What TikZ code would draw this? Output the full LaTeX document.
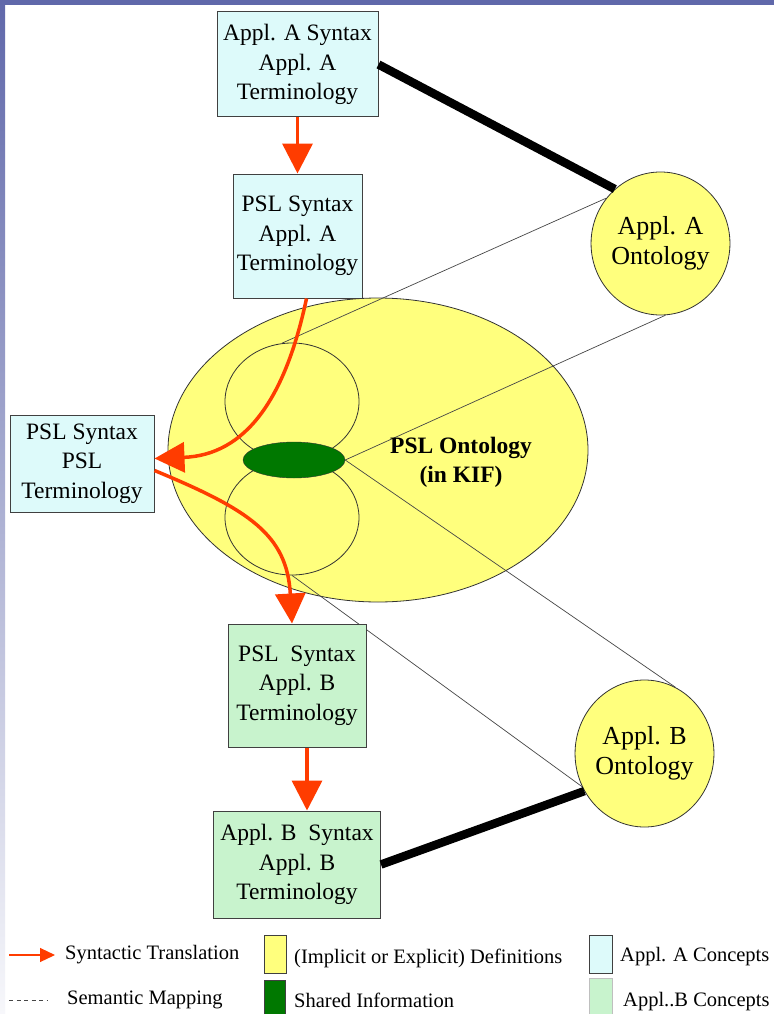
\documentclass[tikz,border=0pt]{standalone}
\usepackage{fontspec}
\setmainfont{Liberation Serif}
\usepackage{tikz}
\usetikzlibrary{positioning}
\usetikzlibrary{calc}
\usetikzlibrary{arrows.meta}
\usetikzlibrary{shapes.geometric}

\definecolor{conceptA}{RGB}{221,250,250}
\definecolor{conceptB}{RGB}{200,243,205}
\definecolor{defyellow}{RGB}{255,255,125}
\definecolor{sharedgreen}{RGB}{0,120,0}
\definecolor{transred}{RGB}{255,60,0}
\definecolor{frameblue}{RGB}{96,104,170}
\definecolor{mapgray}{RGB}{70,70,70}

\begin{document}
\begin{tikzpicture}[
	x=1pt, y=-1pt,
	termbox/.style={draw=black!75, line width=1pt, inner sep=0pt, align=center,
		font=\fontsize{23.5}{29.5}\selectfont},
	ontology/.style={ellipse, draw=black!80, line width=0.8pt, fill=defyellow,
		inner sep=0pt, align=center, font=\fontsize{26}{30}\selectfont},
	defarea/.style={ellipse, draw=black!80, line width=0.8pt, fill=defyellow, inner sep=0pt},
	translation/.style={draw=transred, line width=3.5pt, -{Triangle[length=30pt,width=30pt]}},
	mapping/.style={draw=mapgray, line width=0.7pt},
	binding/.style={draw=black, line width=8.5pt},
	keybox/.style={draw=black!75, line width=0.8pt, inner sep=0pt, minimum width=23pt},
	legendtext/.style={anchor=west, inner sep=0pt, font=\fontsize{20.5}{24}\selectfont}
]

\useasboundingbox (0,0) rectangle (774,1014);
\fill[white] (0,0) rectangle (774,1014);
\shade[top color=frameblue, bottom color=frameblue!5] (0,0) rectangle (5,1014);
\fill[frameblue] (0,0) rectangle (774,5);

% PSL ontology with the two definition areas
\node[defarea, minimum width=420pt, minimum height=304pt] (pslont) at (378,450) {};
\node[defarea, minimum width=134pt, minimum height=117pt] (upperdef) at (292,401.5) {};
\node[defarea, minimum width=134pt, minimum height=115pt] (lowerdef) at (292,517.5) {};
\node[
	ellipse,
	draw=black!80,
	fill=sharedgreen,
	minimum width=102pt,
	minimum height=36pt,
	inner sep=0pt
] (shared) at (294,460) {};

% application ontologies
\node[ontology, minimum width=133pt, minimum height=143pt] (applA) at (660.5,243.5) {Appl. A\\Ontology};
\node[ontology, minimum width=137pt, minimum height=147pt] (applB) at (644.5,753.5) {Appl. B\\Ontology};

% semantic mappings
\draw[mapping] (applA.140) -- (upperdef.100);
\draw[mapping] (applA.-86) -- (shared.east);
\draw[mapping] (shared.east) -- (applB.65);
\draw[mapping] (lowerdef.south) -- (applB.208);

% terminology boxes
\node[
	termbox,
	fill=conceptA,
	minimum width=161pt,
	minimum height=105pt
] (syntaxA) at (297.5,64.5) {Appl. A Syntax\\Appl. A\\Terminology};

\node[
	termbox,
	fill=conceptA,
	minimum width=129pt,
	minimum height=124pt,
	below=56pt of syntaxA
] (pslA) {PSL Syntax\\Appl. A\\Terminology};

\node[
	termbox,
	fill=conceptA,
	minimum width=144pt,
	minimum height=97pt
] (pslpsl) at (82,463.5) {PSL Syntax\\PSL\\Terminology};

\node[
	termbox,
	fill=conceptB,
	minimum width=138pt,
	minimum height=123pt
] (pslB) at (297,685.5) {PSL\ \ Syntax\\Appl. B\\Terminology};

\node[
	termbox,
	fill=conceptB,
	minimum width=167pt,
	minimum height=107pt,
	below=63pt of pslB
] (syntaxB) {Appl. B\ \ Syntax\\Appl. B\\Terminology};

% links to the ontologies
\draw[binding] (syntaxA.east) -- (applA.130);
\draw[binding] (syntaxB.east) -- (applB.212);

% syntactic translations
\draw[translation] (syntaxA) -- (pslA);
\draw[translation] ($(pslA.south)+(9,0)$) .. controls (285,400) and (245,455) .. ($(pslpsl.east)+(0,-5)$);
\draw[translation] ($(pslpsl.east)+(0,7)$) .. controls (250,510) and (287,535) .. ($(pslB.north)+(-5,0)$);
\draw[translation] ($(pslB.south)+(10,0)$) -- ($(syntaxB.north)+(10,0)$);

\node[
	align=center,
	inner sep=0pt,
	font=\fontsize{23.5}{29}\selectfont\bfseries
] (psllabel) at (461,462) {PSL Ontology\\(in KIF)};

% legend
\coordinate (keytrans) at (9,955);
\draw[draw=transred, line width=1.2pt, -{Triangle[length=15pt,width=14pt]}] (keytrans) -- ++(46,0);
\node[legendtext] (transtext) at (65,955) {Syntactic Translation};
\node[keybox, fill=defyellow, minimum width=22pt, minimum height=38pt] (keydef) at (275,954) {};
\node[legendtext] (deftext) at (294,958) {(Implicit or Explicit) Definitions};
\node[keybox, fill=conceptA, minimum height=38pt] (keyA) at (601,954) {};
\node[legendtext] (Atext) at (620,957) {Appl. A Concepts};

\coordinate (keymap) at (9,1000);
\draw[mapgray, line width=0.8pt, dash pattern=on 4pt off 3.5pt] (keymap) -- ++(38,0);
\node[legendtext] (maptext) at (67,1000) {Semantic Mapping};
\node[keybox, fill=sharedgreen, minimum width=21pt, minimum height=36pt] (keyshared) at (274.5,998) {};
\node[legendtext] (sharedtext) at (294,1000) {Shared Information};
\node[keybox, draw=black!25, fill=conceptB, minimum height=38pt] (keyB) at (601,997) {};
\node[legendtext] (Btext) at (623,1002) {Appl..B Concepts};

\end{tikzpicture}
\end{document}
